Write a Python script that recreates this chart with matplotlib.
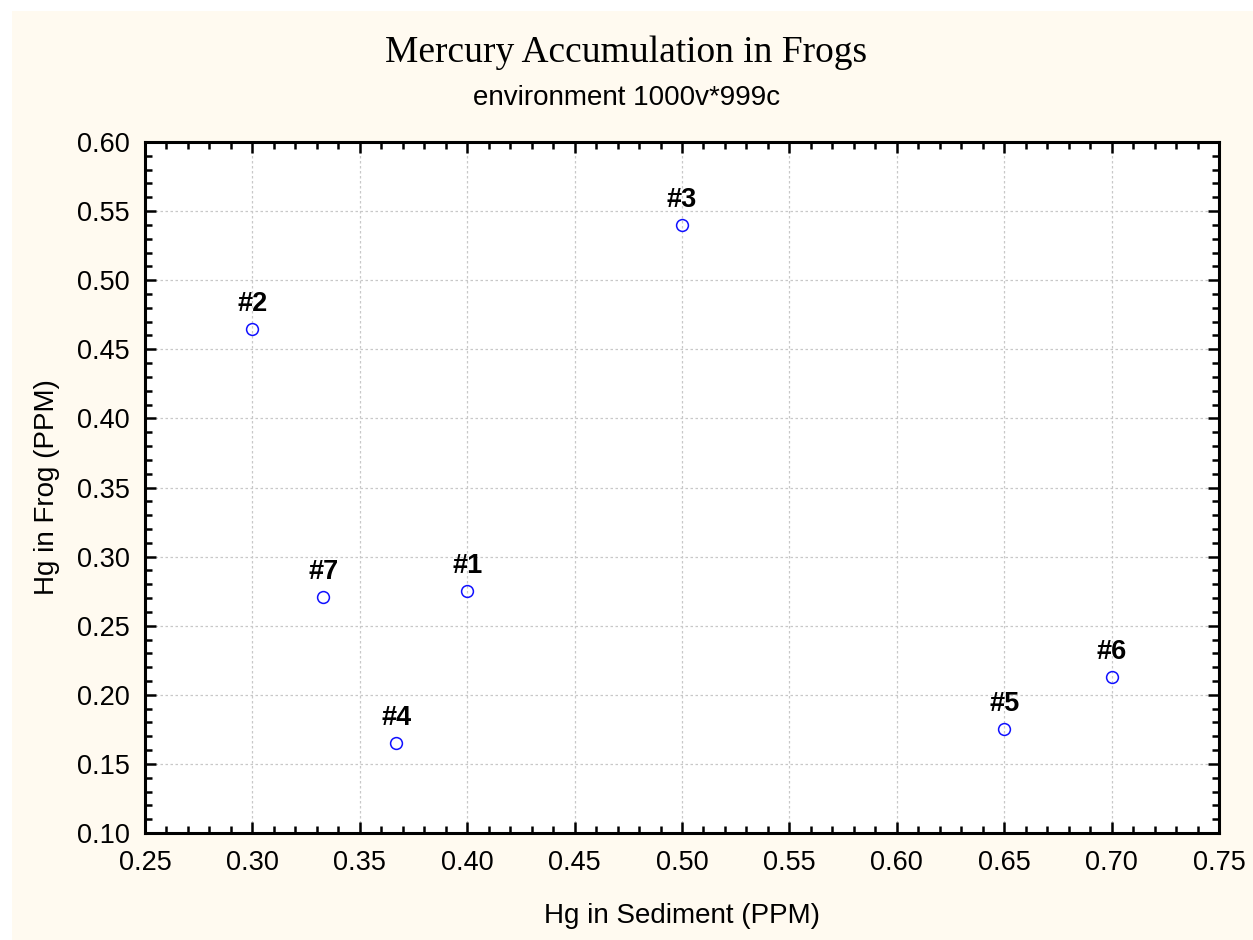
import numpy as np
import matplotlib.pyplot as plt
from matplotlib.patches import Rectangle
from matplotlib.ticker import MultipleLocator

# Hg concentrations per site (PPM)
site_labels = ["#1", "#2", "#3", "#4", "#5", "#6", "#7"]
hg_sediment = [0.400, 0.300, 0.500, 0.367, 0.650, 0.700, 0.333]
hg_frog = [0.275, 0.465, 0.540, 0.165, 0.175, 0.213, 0.271]

x_ticks = [0.25, 0.30, 0.35, 0.40, 0.45, 0.50, 0.55, 0.60, 0.65, 0.70, 0.75]
y_ticks = [0.10, 0.15, 0.20, 0.25, 0.30, 0.35, 0.40, 0.45, 0.50, 0.55, 0.60]

sans = ["Liberation Sans", "DejaVu Sans"]
serif = ["Liberation Serif", "DejaVu Serif"]
plt.rcParams['font.family'] = sans

fig = plt.figure(figsize=(12.53, 9.40), dpi=100)
fig.patch.set_facecolor("white")
# cream panel behind everything, white margin at top/left
fig.patches.append(Rectangle((12 / 1253, 0), 1 - 12 / 1253, 1 - 11 / 940,
                             transform=fig.transFigure, facecolor="#FFFAF0",
                             edgecolor="none", zorder=-10))

ax = fig.add_axes([145 / 1253, 1 - 833 / 940, (1219 - 145) / 1253, (833 - 142) / 940])
ax.set_facecolor("white")

ax.plot(hg_sediment, hg_frog, linestyle="none", marker="o", markersize=8.5,
        markerfacecolor="none", markeredgecolor="#1010ff", markeredgewidth=1.1,
        zorder=3)
for lab, x, y in zip(site_labels, hg_sediment, hg_frog):
    ax.annotate(lab, (x, y), xytext=(0, 13), textcoords="offset points",
                ha="center", va="baseline", fontsize=19.5, fontweight="bold")

ax.set_xlim(0.25, 0.75)
ax.set_ylim(0.10, 0.60)
ax.set_xticks(x_ticks)
ax.set_yticks(y_ticks)
ax.set_xticklabels([f"{v:.2f}" for v in x_ticks])
ax.set_yticklabels([f"{v:.2f}" for v in y_ticks])
ax.xaxis.set_minor_locator(MultipleLocator(0.01))
ax.yaxis.set_minor_locator(MultipleLocator(0.01))

ax.tick_params(which="both", direction="in", top=True, right=True, width=1.8,
               color="black")
ax.tick_params(which="major", length=8, labelsize=19.5)
ax.tick_params(which="minor", length=5)
ax.tick_params(axis="x", which="major", pad=12)
ax.tick_params(axis="y", which="major", pad=11)
for s in ax.spines.values():
    s.set_linewidth(2.2)

ax.grid(True, which="major", linestyle=(0, (2, 2)), color="#c8c8c8", linewidth=0.9)
ax.set_axisbelow(True)

ax.set_xlabel("Hg in Sediment (PPM)", fontsize=20, labelpad=20)
ax.set_ylabel("Hg in Frog (PPM)", fontsize=20, labelpad=12)

fig.text(0.5, 1 - 53 / 940, "Mercury Accumulation in Frogs", ha="center",
         va="center", fontsize=27, family=serif)
fig.text(0.5, 1 - 98 / 940, "environment 1000v*999c", ha="center",
         va="center", fontsize=20)

fig.savefig("out.png", dpi=100)
